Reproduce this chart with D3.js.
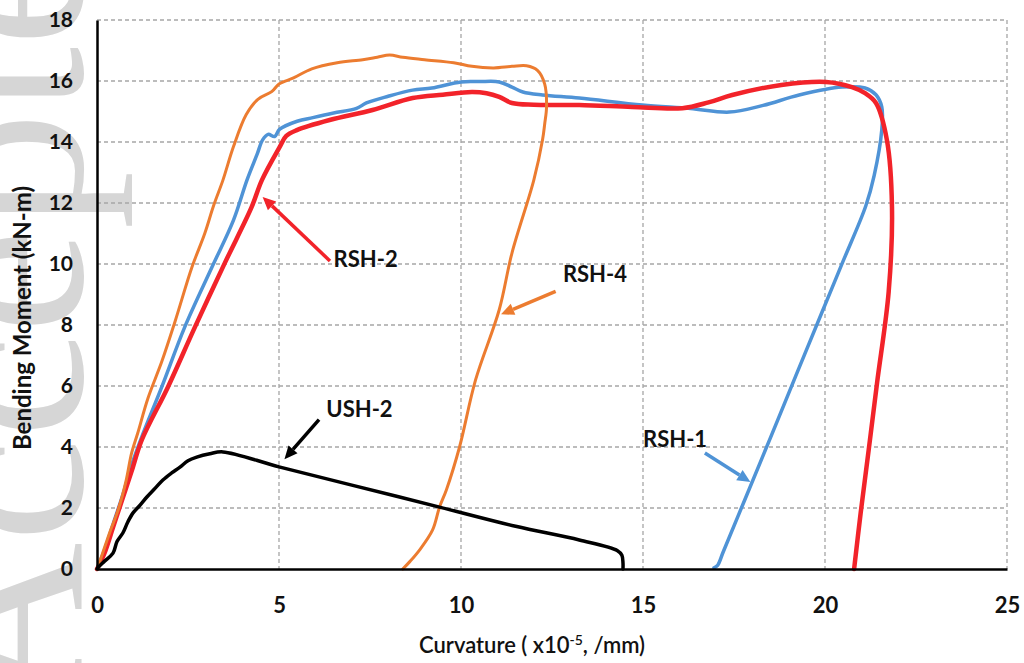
<!DOCTYPE html>
<html>
<head>
<meta charset="utf-8">
<script src="https://cdnjs.cloudflare.com/ajax/libs/d3/7.8.5/d3.min.js"></script>
<style>
	body { margin: 0; background: #fff; }
	text { font-family: Lato, "Liberation Sans", sans-serif; }
</style>
</head>
<body>
<div class="svg-container"></div>
<script>
// size of the page and the plot area
var pageWidth = 1024,
	pageHeight = 663,
	plotLeft = 97,
	plotRight = 1007,
	plotTop = 20,
	plotBottom = 569;

var minX = 0, maxX = 25, minY = 0, maxY = 18;

var xTicks = [0, 5, 10, 15, 20, 25];
var yTicks = [0, 2, 4, 6, 8, 10, 12, 14, 16, 18];

// [curvature, moment]
var rsh4 = [[0,0],[0.15,0.5],[0.35,1.2],[0.58,1.93],[0.8,2.9],[0.95,3.8],[1.12,4.46],[1.4,5.6],[1.78,6.8],
	[2.14,8.1],[2.61,9.9],[2.96,11.0],[3.2,11.9],[3.46,12.75],[3.75,13.85],[4.1,14.9],[4.42,15.4],[4.8,15.65],
	[5.0,15.9],[5.4,16.1],[5.9,16.4],[6.6,16.6],[7.3,16.7],[7.7,16.78],[8.04,16.85],[8.4,16.78],[9.0,16.7],
	[9.8,16.6],[10.3,16.48],[10.9,16.43],[11.4,16.48],[11.8,16.5],[12.1,16.35],[12.3,15.9],[12.35,15.15],
	[12.3,14.6],[12.24,14.07],[12.0,12.75],[11.4,10.36],[11.05,8.5],[10.4,6.2],[9.96,4.0],[9.6,2.6],
	[9.41,2.03],[9.22,1.28],[8.86,0.62],[8.6,0.25],[8.4,0.0]];

var rsh1 = [[0,0],[0.2,0.6],[0.45,1.5],[0.7,2.4],[0.95,3.4],[1.23,4.33],[1.78,5.97],[2.41,7.93],[3.16,9.9],
	[3.75,11.44],[4.12,12.75],[4.4,13.6],[4.55,14.07],[4.7,14.25],[4.88,14.18],[5.02,14.42],[5.5,14.68],[5.93,14.8],
	[6.5,14.95],[7.13,15.1],[7.4,15.28],[8.0,15.5],[8.67,15.7],[9.2,15.77],[10.0,15.97],[10.5,15.98],[11.05,15.97],
	[11.4,15.8],[11.7,15.64],[12.24,15.54],[13.25,15.44],[14.98,15.21],[16.3,15.1],[17.37,14.98],[18.3,15.2],
	[19.29,15.54],[20.47,15.8],[21.1,15.77],[21.4,15.55],[21.56,15.15],[21.56,14.4],[21.35,12.9],[21.12,11.9],
	[20.5,10.1],[19.9,8.37],[19.2,6.34],[18.5,4.3],[17.8,2.28],[17.2,0.55],[17.05,0.12],[16.95,0.04]];

var rsh2 = [[0,0],[0.2,0.5],[0.45,1.4],[0.7,2.3],[0.95,3.2],[1.23,4.23],[1.95,5.97],[2.69,7.93],[3.51,10.03],
	[4.25,11.87],[4.53,12.75],[5.02,13.84],[5.2,14.2],[5.49,14.39],[6.39,14.72],[7.57,15.05],[8.67,15.44],
	[9.5,15.55],[10.3,15.64],[10.7,15.6],[11.05,15.48],[11.4,15.28],[12.0,15.22],[13.25,15.21],[14.7,15.15],
	[16.08,15.11],[16.8,15.3],[17.45,15.54],[18.8,15.87],[20.03,15.97],[20.74,15.8],[21.1,15.6],[21.4,15.28],
	[21.7,14.07],[21.84,11.87],[21.75,9.1],[21.43,6.1],[21.2,3.9],[20.98,1.84],[20.8,0]];

var ush2 = [[0,0],[0.03,0.05],[0.2,0.25],[0.44,0.52],[0.55,0.9],[0.71,1.18],[0.85,1.55],[0.99,1.84],[1.15,2.05],
	[1.37,2.36],[1.6,2.65],[1.81,2.92],[2.05,3.15],[2.28,3.34],[2.5,3.55],[2.74,3.67],[3.1,3.78],[3.46,3.84],
	[5.0,3.35],[7.0,2.75],[9.41,2.03],[11.5,1.4],[13.25,0.95],[14.3,0.6],[14.42,0.45],[14.45,0.2],[14.45,0]];

var seriesNames = ["RSH-1", "RSH-2", "RSH-4", "USH-2"];
var seriesData = [rsh1, rsh2, rsh4, ush2];
var seriesColors = ["#4f93d6", "#f2232a", "#ec7c30", "#000000"];
var seriesWidths = [3.5, 4.5, 3, 3.5];

// label text position and arrow tip, in data units
var labelPos = [[15.0, 4.0], [6.5, 9.9], [12.8, 9.4], [6.3, 5.0]];
var arrowTail = [[16.7, 3.8], [6.4, 10.1], [12.6, 9.1], [6.1, 4.9]];
var arrowTip = [[17.95, 2.85], [4.55, 12.2], [11.1, 8.35], [5.15, 3.6]];


function plot() {
	var svg = d3.select(".svg-container")
	.append("svg")
	.attr("width", pageWidth)
	.attr("height", pageHeight);

	var xScale = d3.scaleLinear().range([plotLeft, plotRight]).domain([minX, maxX]);
	var yScale = d3.scaleLinear().range([plotBottom, plotTop]).domain([minY, maxY]);

	drawWatermark(svg);
	drawGrid(svg, xScale, yScale);

	// draw order: blue, red, orange, black
	for (var i = 0; i < seriesData.length; i++) {
		drawLine(svg, seriesData[i], xScale, yScale, seriesColors[i], seriesWidths[i]);
	}

	drawAxes(svg, xScale, yScale);

	for (var j = 0; j < seriesNames.length; j++) {
		drawLabel(svg, j, xScale, yScale);
	}
}


function drawWatermark(svg) {
	svg.append("text")
	.attr("transform", "translate(82,712) rotate(-90)")
	.style("font-family", "'Liberation Serif', serif")
	.attr("font-size", 235)
	.attr("fill", "#d6d6d6")
	.text("Accepted");
}


function drawGrid(svg, x, y) {
	svg.append("g")
	.selectAll("line")
	.data(yTicks.slice(1))
	.enter()
	.append("line")
	.attr("x1", plotLeft)
	.attr("x2", plotRight)
	.attr("y1", function(d) { return y(d); })
	.attr("y2", function(d) { return y(d); })
	.attr("stroke", "#a6a6a6")
	.attr("stroke-width", 1.3)
	.attr("stroke-dasharray", "4,3");

	svg.append("g")
	.selectAll("line")
	.data(xTicks.slice(1))
	.enter()
	.append("line")
	.attr("y1", plotTop)
	.attr("y2", plotBottom)
	.attr("x1", function(d) { return x(d); })
	.attr("x2", function(d) { return x(d); })
	.attr("stroke", "#a6a6a6")
	.attr("stroke-width", 1.3)
	.attr("stroke-dasharray", "4,3");
}


function drawAxes(svg, x, y) {
	var xAxis = d3.axisBottom(x).tickValues(xTicks).tickSize(0).tickPadding(28);
	var yAxis = d3.axisLeft(y).tickValues(yTicks).tickSize(0).tickPadding(24);

	var gx = svg.append("g")
	.attr("transform", "translate(0," + plotBottom + ")")
	.call(xAxis);
	gx.select(".domain").attr("stroke", "#000").attr("stroke-width", 2.5);
	gx.selectAll("text")
	.attr("font-size", 22)
	.attr("font-weight", 700)
	.attr("fill", "#111");

	var gy = svg.append("g")
	.attr("transform", "translate(" + plotLeft + ",0)")
	.call(yAxis);
	gy.select(".domain").attr("stroke", "#000").attr("stroke-width", 2.5);
	gy.selectAll("text")
	.attr("font-size", 21)
	.attr("font-weight", 700)
	.attr("fill", "#111");

	// axis titles
	svg.append("text")
	.attr("transform", "translate(31,318) rotate(-90)")
	.attr("text-anchor", "middle")
	.attr("font-size", 24)
	.attr("font-weight", 700)
	.attr("fill", "#111")
	.text("Bending Moment (kN-m)");

	var xt = svg.append("text")
	.attr("x", 532)
	.attr("y", 653)
	.attr("text-anchor", "middle")
	.attr("font-size", 22)
	.attr("font-weight", 600)
	.attr("fill", "#111");
	xt.append("tspan").text("Curvature ( x10");
	xt.append("tspan").attr("font-size", 14).attr("dy", -8).text("-5");
	xt.append("tspan").attr("dy", 8).text(", /mm)");
}


function drawLine(svg, data, x, y, color, width) {
	var line = d3.line()
	.x(function(d) { return x(d[0]); })
	.y(function(d) { return y(d[1]); })
	.curve(d3.curveCatmullRom.alpha(0.5));

	svg.append("path")
	.datum(data)
	.attr("fill", "none")
	.attr("stroke", color)
	.attr("stroke-width", width)
	.attr("stroke-linejoin", "round")
	.attr("stroke-linecap", "round")
	.attr("d", line);
}


function drawLabel(svg, i, x, y) {
	var color = seriesColors[i];
	var tx = x(arrowTail[i][0]), ty = y(arrowTail[i][1]);
	var hx = x(arrowTip[i][0]), hy = y(arrowTip[i][1]);
	var ang = Math.atan2(hy - ty, hx - tx);
	var len = 13, half = 6;
	var bx = hx - len * Math.cos(ang), by = hy - len * Math.sin(ang);

	svg.append("line")
	.attr("x1", tx).attr("y1", ty)
	.attr("x2", bx).attr("y2", by)
	.attr("stroke", color)
	.attr("stroke-width", 3.5);

	svg.append("path")
	.attr("d", "M" + hx + "," + hy +
		"L" + (bx + half * Math.sin(ang)) + "," + (by - half * Math.cos(ang)) +
		"L" + (bx - half * Math.sin(ang)) + "," + (by + half * Math.cos(ang)) + "Z")
	.attr("fill", color);

	svg.append("text")
	.attr("x", x(labelPos[i][0]))
	.attr("y", y(labelPos[i][1]))
	.attr("font-size", 22)
	.attr("font-weight", 700)
	.attr("fill", "#111")
	.text(seriesNames[i]);
}

plot();
</script>
</body>
</html>
